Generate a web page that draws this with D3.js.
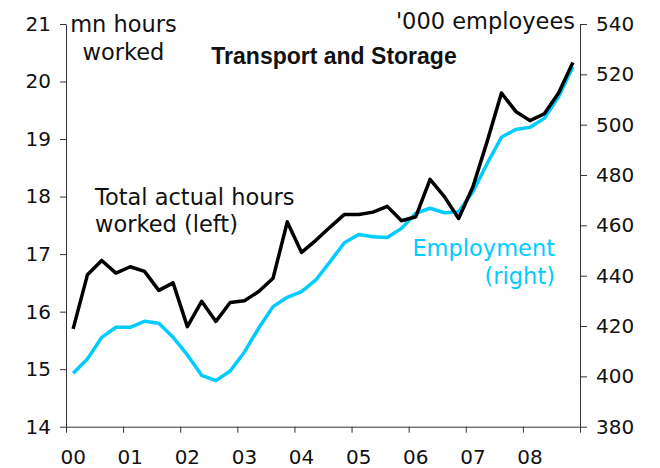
<!DOCTYPE html>
<html>
<head>
<meta charset="utf-8">
<script src="https://cdn.jsdelivr.net/npm/d3@7"></script>
<style>
  body { margin: 0; background: #fff; }
  svg text { font-family: "DejaVu Sans", Verdana, sans-serif; }
</style>
</head>
<body>
<div id="chart"></div>
<script>
// Quarterly data, 2000 Q1 to 2008 Q4
const years = ["00", "01", "02", "03", "04", "05", "06", "07", "08"];
const hours = [15.70, 16.64, 16.89, 16.67, 16.78, 16.70, 16.37, 16.50,
  15.74, 16.18, 15.83, 16.16, 16.19, 16.35, 16.58, 17.56,
  17.03, 17.24, 17.47, 17.69, 17.69, 17.73, 17.83, 17.58,
  17.65, 18.30, 18.00, 17.62, 18.17, 18.96, 19.80, 19.48,
  19.32, 19.44, 19.80, 20.33];
const employment = [401.2, 406.9, 415.5, 419.5, 419.5, 421.9, 421.1, 415.5,
  408.5, 400.4, 398.3, 402.1, 409.7, 419.2, 427.7, 431.4,
  433.7, 438.3, 445.6, 453.1, 456.4, 455.5, 455.2, 458.8,
  464.8, 466.8, 465.0, 465.4, 473.4, 484.6, 495.0, 498.1,
  499.0, 502.5, 511.1, 523.0];
const leftTicks = [14, 15, 16, 17, 18, 19, 20, 21];
const rightTicks = [380, 400, 420, 440, 460, 480, 500, 520, 540];

const width = 660, height = 468;
const plot = { left: 66, right: 580, top: 24, bottom: 426.7 };

const svg = d3.select("#chart").append("svg")
  .attr("width", width)
  .attr("height", height);

const idx = d3.range(hours.length);
const x = d3.scaleBand().domain(idx).range([plot.left, plot.right]);
const xEdge = d3.scaleLinear().domain([0, hours.length]).range([plot.left, plot.right]);
const yL = d3.scaleLinear().domain([14, 21]).range([plot.bottom, plot.top]);
const yR = d3.scaleLinear().domain([380, 540]).range([plot.bottom, plot.top]);
const cx = i => x(i) + x.bandwidth() / 2;

// left axis
const gL = svg.append("g")
  .attr("transform", `translate(${plot.left},0)`)
  .call(d3.axisLeft(yL).tickValues(leftTicks).tickFormat(d3.format("d"))
    .tickSize(6).tickPadding(9).tickSizeOuter(0));

// right axis
const gR = svg.append("g")
  .attr("transform", `translate(${plot.right},0)`)
  .call(d3.axisRight(yR).tickValues(rightTicks).tickFormat(d3.format("d"))
    .tickSize(7).tickPadding(9).tickSizeOuter(0));

// bottom axis: tick marks at year boundaries, labels at first quarter
const gB = svg.append("g")
  .attr("transform", `translate(0,${plot.bottom})`)
  .call(d3.axisBottom(xEdge).tickValues(d3.range(0, hours.length + 1, 4))
    .tickFormat("").tickSize(6).tickSizeOuter(0));

const gBL = svg.append("g")
  .attr("transform", `translate(0,${plot.bottom})`)
  .call(d3.axisBottom(x).tickValues(d3.range(0, hours.length, 4))
    .tickFormat(i => years[i / 4]).tickSize(0).tickPadding(23));
gBL.select(".domain").remove();

[gL, gR, gB, gBL].forEach(g => {
  g.selectAll("text").attr("font-size", 20).attr("fill", "#111")
    .attr("font-family", '"DejaVu Sans", Verdana, sans-serif');
  g.selectAll("line, path").attr("stroke", "#333");
});

// lines
const lineL = d3.line().x((d, i) => cx(i)).y(d => yL(d));
const lineR = d3.line().x((d, i) => cx(i)).y(d => yR(d));

svg.append("path")
  .datum(employment)
  .attr("d", lineR)
  .attr("fill", "none")
  .attr("stroke", "#00CCFF")
  .attr("stroke-width", 3.5)
  .attr("stroke-linejoin", "round");

svg.append("path")
  .datum(hours)
  .attr("d", lineL)
  .attr("fill", "none")
  .attr("stroke", "#000")
  .attr("stroke-width", 3.5)
  .attr("stroke-linejoin", "round");

// texts
const txt = (s, tx, ty, opts = {}) => svg.append("text")
  .attr("x", tx).attr("y", ty)
  .attr("font-size", opts.size || 22.5)
  .attr("text-anchor", opts.anchor || "start")
  .attr("fill", opts.fill || "#111")
  .attr("font-weight", opts.weight || "normal")
  .style("font-family", opts.family || null)
  .text(s);

txt("mn hours", 123.5, 32, { anchor: "middle" });
txt("worked", 123.5, 59.5, { anchor: "middle" });
txt("'000 employees", 575, 28.5, { anchor: "end" });
txt("Transport and Storage", 334, 63.5, { anchor: "middle", weight: "bold", size: 23,
  family: '"Liberation Sans", Arial, sans-serif' });
txt("Total actual hours", 95, 205);
txt("worked (left)", 95, 232);
txt("Employment", 555, 256, { anchor: "end", fill: "#00CCFF" });
txt("(right)", 555, 284, { anchor: "end", fill: "#00CCFF" });
</script>
</body>
</html>
